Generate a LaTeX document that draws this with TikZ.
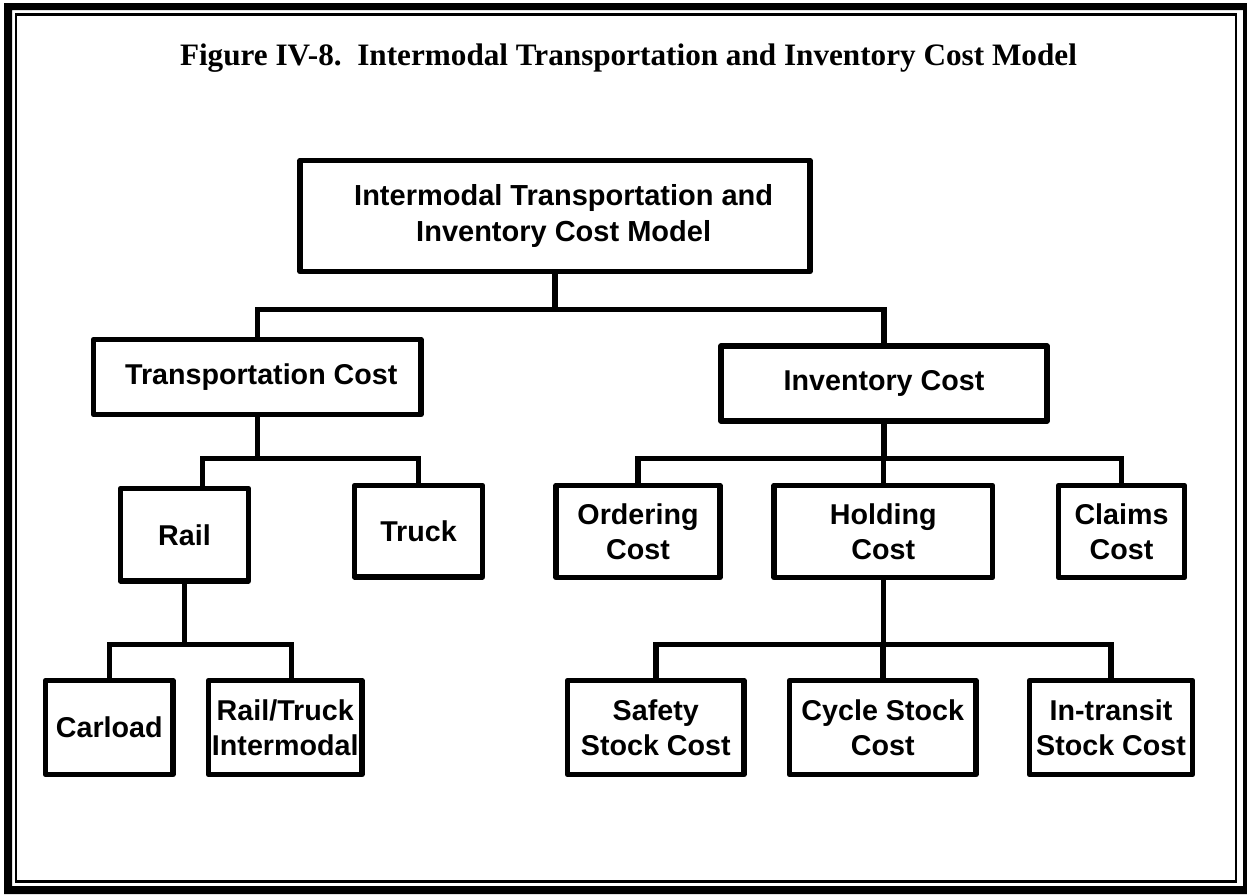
\documentclass[tikz,border=0pt]{standalone}
\usepackage{fontspec}
\setmainfont{Liberation Serif}
\newfontfamily\arialfont{Liberation Sans}
\begin{document}
\begin{tikzpicture}[x=0.75pt,y=-0.75pt,
  wpx/.style={minimum width=#1*0.75pt},
  hpx/.style={minimum height=#1*0.75pt},
  box/.style={draw, line width=4.125pt, inner sep=0pt, align=center, line join=round,
    font=\arialfont\bfseries\fontsize{21.5}{26.25}\selectfont},
  conn/.style={line width=4.125pt}]
\useasboundingbox (0,0) rectangle (1247,894);
\fill[white] (0,0) rectangle (1247,894);
\fill[black, even odd rule] (4,3) rectangle (1247,894) (12,10) rectangle (1243,886);
\draw[line width=1.8pt] (16.2,14.3) rectangle (1236.2,881.3);

\node[font=\fontsize{23.4}{28}\selectfont\bfseries, anchor=base, inner sep=0pt] (title) at (628.5,65.5)
  {Figure IV-8.~~Intermodal Transportation and Inventory Cost Model};

\node[box, wpx=510, hpx=111, font=\arialfont\bfseries\fontsize{21.75}{27.5}\selectfont] (top) at (555,216)
  {\hspace*{13pt}Intermodal Transportation and\\\hspace*{13pt}Inventory Cost Model};
\node[box, wpx=327.5, hpx=75] (tc) at (257.25,377) {\hspace*{6pt}Transportation Cost};
\node[box, wpx=326, hpx=75] (ic) at (884,383.5) {Inventory Cost};
\node[box, wpx=128, hpx=92.5] (rail) at (184.5,534.75) {Rail};
\node[box, wpx=128, hpx=91.5] (truck) at (418.5,531.25) {Truck};
\node[box, wpx=164, hpx=92] (ordering) at (638,531.5) {Ordering\\Cost};
\node[box, wpx=218.5, hpx=92] (holding) at (883.25,531.5) {Holding\\Cost};
\node[box, wpx=126, hpx=92] (claims) at (1121.5,531.5) {Claims\\Cost};
\node[box, wpx=127.5, hpx=94] (carload) at (109.25,727.5) {Carload};
\node[box, wpx=153.5, hpx=94] (rtint) at (285.25,727.5) {Rail/Truck\\Intermodal};
\node[box, wpx=176.5, hpx=94] (safety) at (655.75,727.5) {Safety\\Stock Cost};
\node[box, wpx=186.5, hpx=94] (cycle) at (882.75,727.5) {Cycle Stock\\Cost};
\node[box, wpx=163, hpx=94] (intransit) at (1111,727.5) {In-transit\\Stock Cost};

\path (0,309.5) coordinate (y1) (0,458.5) coordinate (y2) (0,644.5) coordinate (y3);
\coordinate (rc) at (202.5,0);
\coordinate (rtc) at (291.5,644.5);

\draw[conn] (top.south) -- (top.south |- y1);
\draw[conn] (tc.north) |- (ic.north |- y1) -- (ic.north);

\draw[conn] (tc.south) -- (tc.south |- y2);
\draw[conn] (rail.north -| rc) |- (truck.north |- y2) -- (truck.north);

\draw[conn] (rail.south) -- (rail.south |- y3);
\draw[conn] (carload.north) |- (rtc) -- (rtc |- rtint.north);

\draw[conn] (ic.south) -- (ic.south |- y2);
\draw[conn] (ordering.north) |- (claims.north |- y2) -- (claims.north);
\draw[conn] (holding.north) -- (holding.north |- y2);

\draw[conn] (holding.south) -- (holding.south |- y3);
\draw[conn] (safety.north) |- (intransit.north |- y3) -- (intransit.north);
\draw[conn] (cycle.north) -- (cycle.north |- y3);
\end{tikzpicture}
\end{document}
